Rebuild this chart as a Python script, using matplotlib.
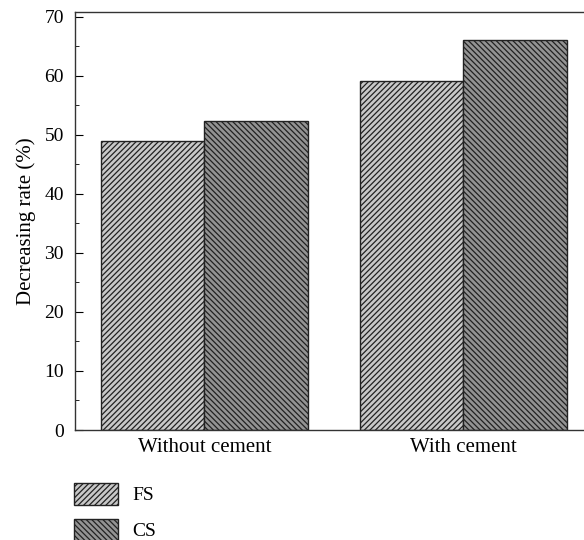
import matplotlib.pyplot as plt
import numpy as np

plt.rcParams['font.family'] = ['Liberation Serif', 'DejaVu Serif']
plt.rcParams['hatch.linewidth'] = 0.9
plt.rcParams['hatch.color'] = '#222222'

groups = ['Without cement', 'With cement']
fs_rate = [48.9, 59.2]
cs_rate = [52.3, 66.0]

x = np.arange(len(groups))
w = 0.4

fig = plt.figure(figsize=(5.84, 5.4), dpi=100)
ax = fig.add_axes([0.1284, 0.2037, 0.886, 0.774])

ax.bar(x - w / 2, fs_rate, w, color='#c8c8c8', edgecolor='#222222',
       hatch='//////', linewidth=1.0, label='FS')
ax.bar(x + w / 2, cs_rate, w, color='#939393', edgecolor='#222222',
       hatch='\\\\\\\\\\\\', linewidth=1.0, label='CS')

ax.set_xlim(-0.5, 1.5)
ax.set_ylim(0, 70.8)
ax.set_xticks(x)
ax.set_xticklabels(groups, fontsize=15)
ax.tick_params(axis='x', length=0, pad=6)
ax.set_yticks(np.arange(0, 71, 10))
ax.set_yticks(np.arange(5, 70, 10), minor=True)
ax.tick_params(axis='y', direction='in', length=6, labelsize=14, pad=8)
ax.tick_params(axis='y', which='minor', direction='in', length=3)
ax.set_ylabel('Decreasing rate (%)', fontsize=15, labelpad=6)
for s in ax.spines.values():
    s.set_color('#333333')
    s.set_linewidth(1.0)

fig.legend(loc='upper left', bbox_to_anchor=(0.1267, 0.1056), frameon=False,
           fontsize=14, handlelength=2.27, handleheight=1.35, labelspacing=0.72,
           handletextpad=0.75, borderaxespad=0, borderpad=0)

fig.savefig('out.png', dpi=100)
